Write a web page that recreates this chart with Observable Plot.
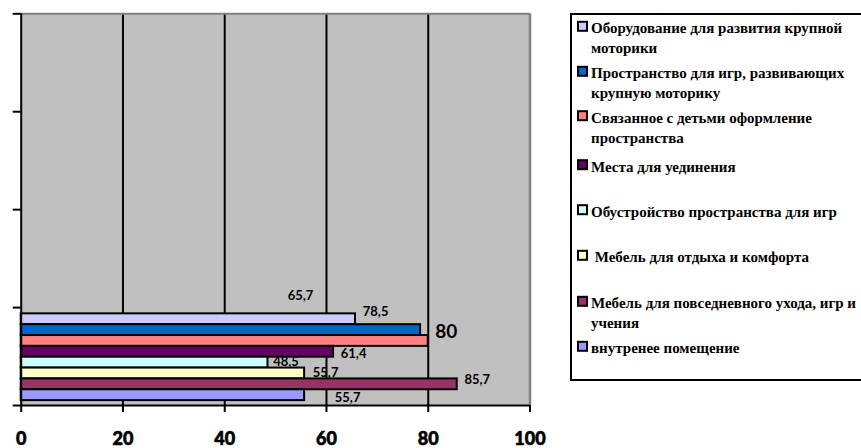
<!DOCTYPE html>
<html>
<head>
<meta charset="utf-8">
<script src="https://cdn.jsdelivr.net/npm/d3@7"></script>
<script src="https://cdn.jsdelivr.net/npm/@observablehq/plot@0.6"></script>
<style>
  html, body { margin: 0; padding: 0; background: #fff; overflow: hidden; }
  #wrap { position: relative; width: 861px; height: 448px; overflow: hidden; }
  #wrap > svg { position: absolute; left: 0; top: 0; }
  #wrap > svg#legend { left: 570px; top: 13px; }
</style>
</head>
<body>
<div id="wrap"></div>
<script>
// ---- data ----
const series = [
  "Оборудование для развития крупной моторики",
  "Пространство для игр, развивающих крупную моторику",
  "Связанное с детьми оформление пространства",
  "Места для уединения",
  "Обустройство пространства для игр",
  " Мебель для отдыха и комфорта",
  "Мебель для повседневного ухода, игр и учения",
  "внутренее помещение"
];
const values = [65.7, 78.5, 80, 61.4, 48.5, 55.7, 85.7, 55.7];
const valueLabels = ["65,7", "78,5", "80", "61,4", "48,5", "55,7", "85,7", "55,7"];
const colors = ["#ccccff", "#0066cc", "#ff8080", "#660066", "#ccffff", "#ffffcc", "#993366", "#9999ff"];
const xTicks = [0, 20, 40, 60, 80, 100];
const categorySlots = [0, 1, 2, 3, 4];

// ---- layout (not data) ----
const bandLow = 0.05, bandHigh = 0.936;              // occupied part of the bottom category
const labelDx = [-55, -45, 18, 20, 18, 21, 20, 43];
const labelDy = [-23, -18, -9, 2, -1, -1, -5, 3];
const labelSize = [13, 13, 19, 13, 13, 13, 13, 13];
const legendCenters = [28.3, 73.3, 117.7, 166.7, 211.7, 257.3, 303.3, 348.3];
const legendLines = [
  ["Оборудование для развития крупной", "моторики"],
  ["Пространство для игр, развивающих", "крупную моторику"],
  ["Связанное с детьми оформление", "пространства"],
  ["Места для уединения"],
  ["Обустройство пространства для игр"],
  ["\u00a0Мебель для отдыха и комфорта"],
  ["Мебель для повседневного ухода, игр и", "учения"],
  ["внутренее помещение"]
];

const n = series.length;
const h = (bandHigh - bandLow) / n;
const rows = series.map((name, i) => ({
  name, value: values[i], label: valueLabels[i], i,
  y1: bandHigh - (i + 1) * h, y2: bandHigh - i * h, yc: bandHigh - (i + 0.5) * h
}));

const chart = Plot.plot({
  width: 861, height: 448,
  marginLeft: 20.7, marginRight: 331.5, marginTop: 13.3, marginBottom: 43,
  x: { domain: [0, 100], label: null },
  y: { domain: [0, 4], label: null },
  color: { domain: series, range: colors },
  style: { fontFamily: "Lato, sans-serif", background: "transparent" },
  marks: [
    Plot.frame({ fill: "#c0c0c0", stroke: null }),
    Plot.ruleX([20, 40, 60, 80], { stroke: "#000", strokeWidth: 2 }),
    Plot.ruleX([100], { stroke: "#808080", strokeWidth: 2.5 }),
    Plot.ruleY([4], { stroke: "#808080", strokeWidth: 2 }),
    ...rows.map(r => Plot.text([r], {
      x: "value", y: "yc", text: "label", dx: labelDx[r.i], dy: labelDy[r.i],
      fontSize: labelSize[r.i], fontWeight: "bold", fill: "#000", textAnchor: "middle", lineAnchor: "middle"
    })),
    Plot.rect(rows, {
      x1: () => 0, x2: "value", y1: "y1", y2: "y2",
      fill: "name", stroke: "#000", strokeWidth: 2
    }),
    Plot.ruleX([0], { stroke: "#000", strokeWidth: 2 }),
    Plot.ruleY([0], { stroke: "#000", strokeWidth: 2 }),
    Plot.axisY({ ticks: categorySlots, tickFormat: () => "", tickSize: 8, stroke: "#000", strokeWidth: 2, label: null }),
    Plot.axisX({ ticks: xTicks, tickSize: 7, stroke: "#000", strokeWidth: 2, label: null, tickFormat: () => "" }),
    Plot.text(xTicks, { x: d => d, frameAnchor: "bottom", dy: 34, lineAnchor: "middle",
                        text: d => String(d), fontSize: 18, fontWeight: 900, fill: "#000",
                        stroke: "#000", strokeWidth: 0.6 })
  ]
});
const wrap = document.getElementById("wrap");
wrap.appendChild(chart);

// ---- legend (SVG, colours from the plot's colour scale) ----
const colorScale = chart.scale("color");
const lw = 300, lh = 368, ox = 570, oy = 13;
const svg = d3.create("svg").attr("id", "legend").attr("width", lw).attr("height", lh)
  .style("font-family", '"Liberation Serif", "Times New Roman", serif')
  .style("font-weight", "bold").style("font-size", "15px");
svg.append("rect").attr("x", 1).attr("y", 1).attr("width", lw - 2).attr("height", lh - 2)
  .attr("fill", "#fff").attr("stroke", "#000").attr("stroke-width", 2);
series.forEach((name, i) => {
  const cy = legendCenters[i] - oy;
  svg.append("rect").attr("x", 8).attr("y", cy - 6.5).attr("width", 9).attr("height", 9)
    .attr("fill", colorScale.apply(name)).attr("stroke", "#000").attr("stroke-width", 2);
  legendLines[i].forEach((line, k) => {
    svg.append("text").attr("x", 21).attr("y", cy + 5 + k * 20).attr("fill", "#000")
      .attr("xml:space", "preserve").text(line);
  });
});
wrap.appendChild(svg.node());
</script>
</body>
</html>
